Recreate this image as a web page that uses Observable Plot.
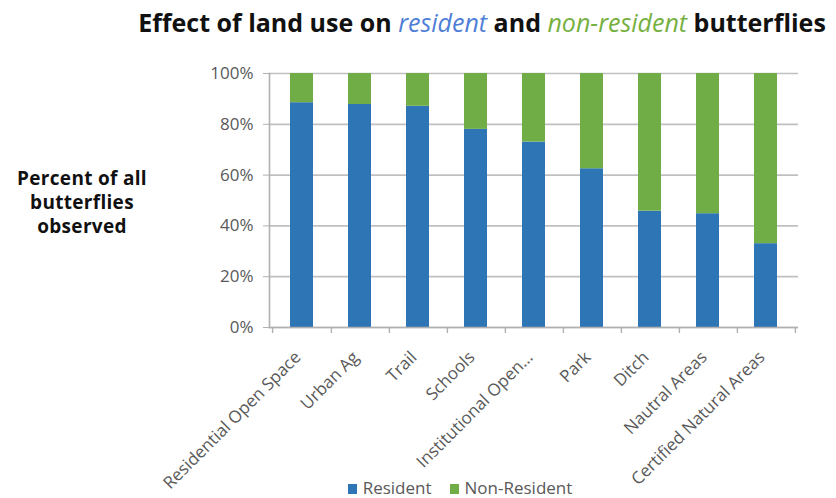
<!DOCTYPE html>
<html><head><meta charset="utf-8">
<script src="https://cdn.jsdelivr.net/npm/d3@7"></script>
<script src="https://cdn.jsdelivr.net/npm/@observablehq/plot@0.6"></script>
<style>
body{margin:0;background:#fff;}
#wrap{position:relative;width:836px;height:498px;overflow:hidden;font-family:"Open Sans",sans-serif;}
#chart{position:absolute;left:0;top:0;}
#title{position:absolute;left:82px;width:800px;top:5px;text-align:center;white-space:nowrap;font-weight:bold;font-size:25px;line-height:normal;color:#111;letter-spacing:0px;}
#title .r{color:#4f7fd6;font-style:italic;font-weight:normal;}
#title .n{color:#76b041;font-style:italic;font-weight:normal;}
#ylab{position:absolute;left:0;width:164px;top:166px;text-align:center;font-weight:bold;font-size:19px;line-height:24px;letter-spacing:0.3px;color:#111;}
#legend{position:absolute;left:0;width:920px;top:476px;text-align:center;font-size:17px;line-height:normal;color:#595959;white-space:nowrap;}
#legend span.sw{display:inline-block;width:9px;height:10px;margin-right:6px;vertical-align:0px;}
#legend span.item{margin:0 9px;}
</style></head>
<body><div id="wrap"><div id="chart"></div>
<div id="title">Effect of land use on <span class="r">resident</span> and <span class="n">non-resident</span> butterflies</div>
<div id="ylab">Percent of all<br>butterflies<br>observed</div>
<div id="legend"></div>
</div>
<script>
const categories = ["Residential Open Space","Urban Ag","Trail","Schools","Institutional Open\u2026","Park","Ditch","Nautral Areas","Certified Natural Areas"];
const series = ["Resident","Non-Resident"];
const colors = ["#2e75b6","#70ad47"];
const resident = [0.885,0.878,0.871,0.780,0.730,0.625,0.458,0.448,0.330];
const nonResident = [0.115,0.122,0.129,0.220,0.270,0.375,0.542,0.552,0.670];
const yTicks = [0,0.2,0.4,0.6,0.8,1];

const rows = [];
categories.forEach((c,i)=>{
  rows.push({category:c, series:series[0], value:resident[i]});
  rows.push({category:c, series:series[1], value:nonResident[i]});
});

const W=836,H=498,ML=269,MR=38,MT=73,MB=171;
const step=(W-ML-MR)/categories.length;
const plotH=H-MT-MB;

const chart = Plot.plot({
  width:W, height:H, marginLeft:ML, marginRight:MR, marginTop:MT, marginBottom:MB,
  style:{fontFamily:"Open Sans, sans-serif", background:"#fff"},
  x:{domain:categories, paddingInner:0.61, paddingOuter:0.305, label:null},
  y:{domain:[0,1], label:null},
  color:{domain:series, range:colors},
  marks:[
    Plot.gridY(yTicks,{stroke:"#c0c0c0", strokeOpacity:1, strokeWidth:1.7}),
    Plot.barY(rows,{x:"category", y:"value", fill:"series"}),
    Plot.ruleY([0],{stroke:"#b0b0b0", strokeWidth:1.7}),
    Plot.frame({anchor:"left", stroke:"#b0b0b0", strokeWidth:1.6}),
    Plot.ruleX(categories,{x:d=>d, dx:step/2, insetTop:plotH, insetBottom:-6, stroke:"#b0b0b0", strokeWidth:1.4}),
    Plot.ruleX([categories[0]],{x:d=>d, dx:-step/2, insetTop:plotH, insetBottom:-6, stroke:"#b0b0b0", strokeWidth:1.4}),
    Plot.axisY({ticks:yTicks, tickFormat:d3.format(".0%"), tickSize:6, tickPadding:10, fontSize:17, fill:"#595959", stroke:"#b0b0b0", label:null}),
    Plot.axisX({tickSize:0, tickRotate:-45, tickPadding:27, dx:-4, fontSize:17, fill:"#595959", label:null})
  ]
});
document.getElementById("chart").appendChild(chart);

const leg = document.getElementById("legend");
series.forEach((s,i)=>{
  const it=document.createElement("span"); it.className="item";
  const sw=document.createElement("span"); sw.className="sw"; sw.style.background=colors[i];
  it.appendChild(sw); it.appendChild(document.createTextNode(s)); leg.appendChild(it);
});
</script></body></html>
